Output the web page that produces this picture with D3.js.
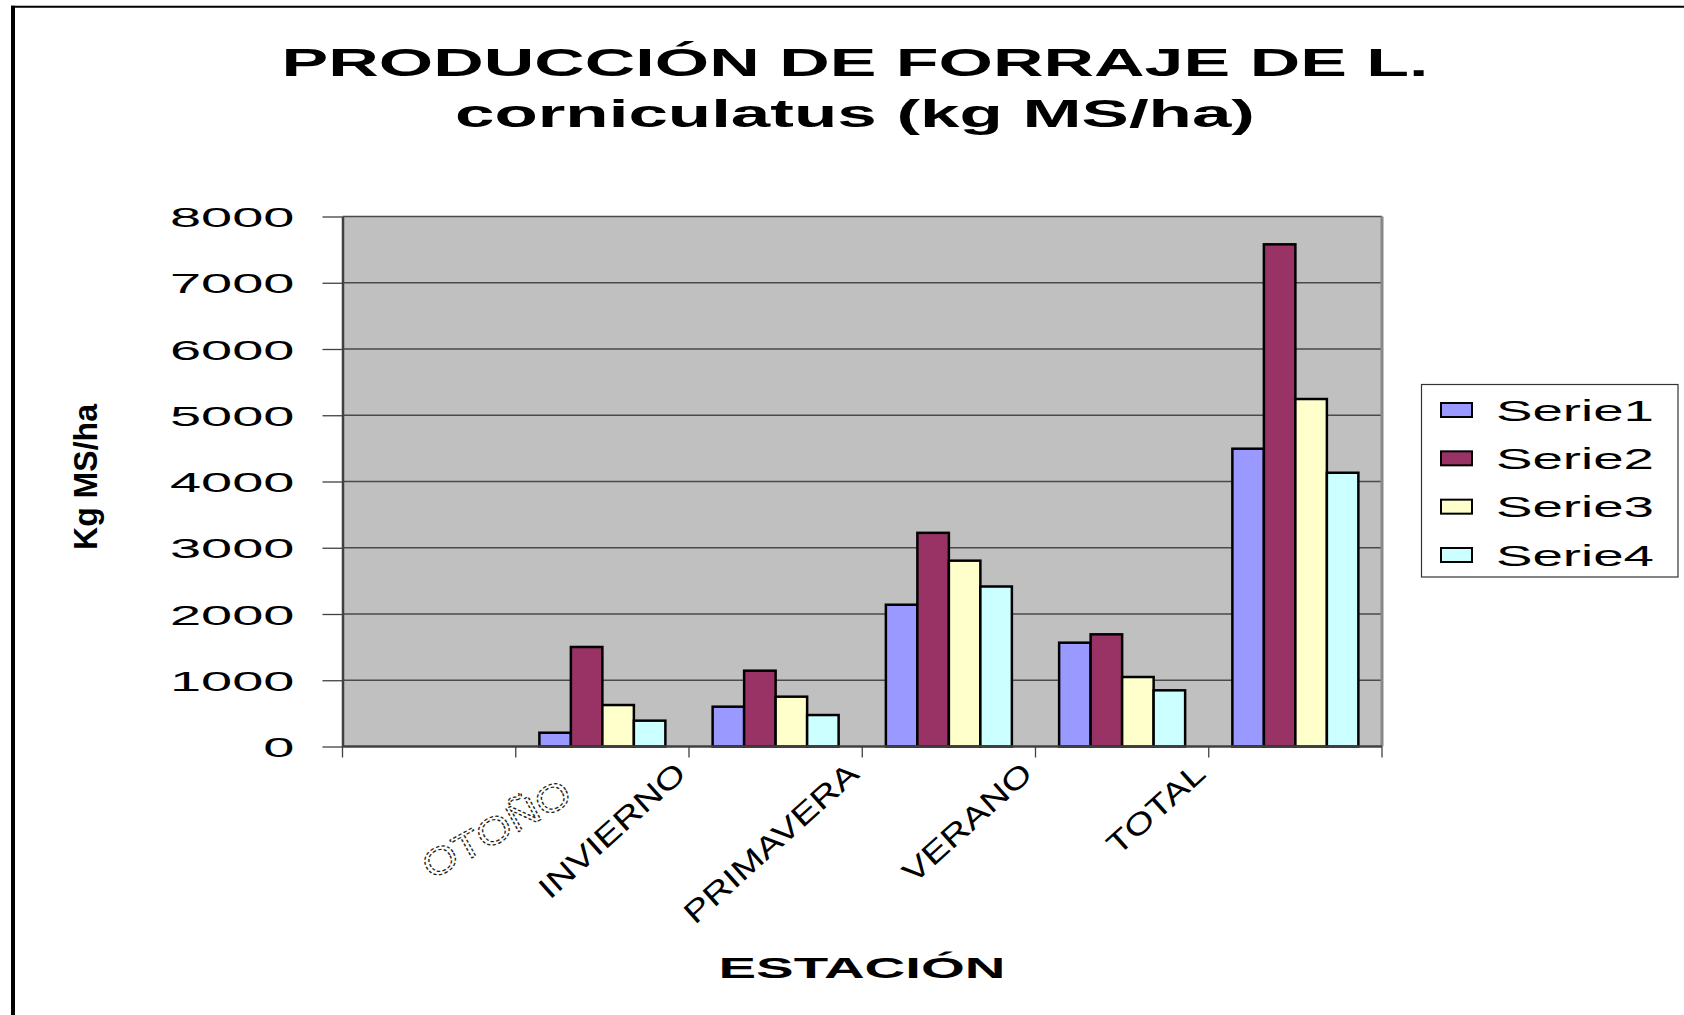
<!DOCTYPE html>
<html>
<head>
<meta charset="utf-8">
<script src="https://cdn.jsdelivr.net/npm/d3@7"></script>
<style>
  body { margin: 0; background: #ffffff; }
  text { font-family: "Liberation Sans", Arial, sans-serif; }
</style>
</head>
<body>
<svg id="chart" width="1684" height="1015"></svg>
<script>
// Forage production of Lotus corniculatus by season (kg DM/ha)
const categories = ["", "OTOÑO", "INVIERNO", "PRIMAVERA", "VERANO", "TOTAL"];
const seriesNames = ["Serie1", "Serie2", "Serie3", "Serie4"];
const serie1 = [null, 208, 601, 2140, 1567, 4495];
const serie2 = [null, 1502, 1144, 3225, 1693, 7580];
const serie3 = [null, 626, 752, 2805, 1049, 5245];
const serie4 = [null, 390, 475, 2415, 848, 4132];
const yTicks = [0, 1000, 2000, 3000, 4000, 5000, 6000, 7000, 8000];
const titleLines = ["PRODUCCIÓN DE FORRAJE DE L.", "corniculatus (kg MS/ha)"];
const xTitle = "ESTACIÓN";
const yTitle = "Kg MS/ha";

const seriesValues = [serie1, serie2, serie3, serie4];
const colors = ["#9999FF", "#993366", "#FFFFCC", "#CCFFFF"];

const svg = d3.select("#chart");

// outer frame (top and left edges)
svg.append("line").attr("x1", 11).attr("x2", 1684).attr("y1", 6.7).attr("y2", 6.7)
  .attr("stroke", "#000").attr("stroke-width", 2);
svg.append("line").attr("x1", 13).attr("x2", 13).attr("y1", 5.7).attr("y2", 1015)
  .attr("stroke", "#000").attr("stroke-width", 4);

const plot = { left: 342.5, right: 1382, top: 216.5, bottom: 746.5 };

const x = d3.scaleBand().domain(categories).range([plot.left, plot.right]);
const inner = d3.scaleBand().domain(seriesNames).range([0, x.bandwidth()])
  .paddingInner(0).paddingOuter(0.75);
const y = d3.scaleLinear().domain([0, 8000]).range([plot.bottom, plot.top]);

// plot background
svg.append("rect")
  .attr("x", plot.left).attr("y", plot.top)
  .attr("width", plot.right - plot.left).attr("height", plot.bottom - plot.top)
  .attr("fill", "#C0C0C0");

// horizontal gridlines
svg.append("g").selectAll("line").data(yTicks.filter(v => v > 0)).join("line")
  .attr("x1", plot.left).attr("x2", plot.right)
  .attr("y1", d => y(d)).attr("y2", d => y(d))
  .attr("stroke", "#4a4a4a").attr("stroke-width", 1.3);

// right edge of plot area
svg.append("line").attr("x1", plot.right).attr("x2", plot.right)
  .attr("y1", plot.top).attr("y2", plot.bottom)
  .attr("stroke", "#888").attr("stroke-width", 3);

// bars
const rows = [];
categories.forEach((c, i) => {
  seriesNames.forEach((s, k) => {
    const v = seriesValues[k][i];
    if (v != null) rows.push({ cat: c, series: s, k, value: v });
  });
});
svg.append("g").selectAll("rect").data(rows).join("rect")
  .attr("x", d => x(d.cat) + inner(d.series))
  .attr("y", d => y(d.value))
  .attr("width", inner.bandwidth())
  .attr("height", d => y(0) - y(d.value))
  .attr("fill", d => colors[d.k])
  .attr("stroke", "#000")
  .attr("stroke-width", 2.5);

// y axis
const yAxis = svg.append("g")
  .attr("transform", `translate(${plot.left},0)`)
  .call(d3.axisLeft(y).tickValues(yTicks).tickFormat(d3.format("d")).tickSize(20).tickSizeOuter(0));
yAxis.select(".domain").attr("stroke", "#404040").attr("stroke-width", 2.5);
yAxis.selectAll(".tick line").attr("stroke", "#404040").attr("stroke-width", 1.3);
yAxis.selectAll(".tick text")
  .attr("x", 0)
  .attr("dy", "0.36em")
  .attr("transform", "translate(-48,0) scale(2,1)")
  .attr("font-size", 28)
  .attr("font-family", "Liberation Sans, Arial, sans-serif")
  .attr("fill", "#000");

// x axis baseline and category boundary ticks
svg.append("line").attr("x1", plot.left).attr("x2", plot.right)
  .attr("y1", y(0)).attr("y2", y(0))
  .attr("stroke", "#404040").attr("stroke-width", 2.5);
const bounds = categories.map(c => x(c)).concat([plot.right]);
svg.append("g").selectAll("line").data(bounds).join("line")
  .attr("x1", d => d).attr("x2", d => d)
  .attr("y1", y(0)).attr("y2", y(0) + 11)
  .attr("stroke", "#404040").attr("stroke-width", 1.3);

// rotated category labels; the first season is drawn as a dashed outline
const labelStyle = {
  solid:    { dx: -88, dy: 776, rot: -42, sx: 1.28, size: 30 },
  outlined: { dx: -28, dy: 801, rot: -29, sx: 1.18, size: 38 }
};
svg.append("g").selectAll("text").data(categories.filter(c => c !== "")).join("text")
  .each(function (d, i) {
    const st = i === 0 ? labelStyle.outlined : labelStyle.solid;
    d3.select(this)
      .attr("font-size", st.size)
      .attr("transform",
        `translate(${x(d) + x.bandwidth() / 2 + st.dx},${st.dy}) rotate(${st.rot}) scale(${st.sx},1)`);
  })
  .attr("text-anchor", "end")
  .attr("fill", (d, i) => i === 0 ? "none" : "#000")
  .attr("stroke", (d, i) => i === 0 ? "#222" : "none")
  .attr("stroke-width", 1.2)
  .attr("stroke-dasharray", (d, i) => i === 0 ? "3,2" : null)
  .text(d => d);

// chart title
const titleBaselines = [76, 127];
const titleWidths = [1147, 800];
svg.append("g").selectAll("text").data(titleLines).join("text")
  .attr("x", 855).attr("y", (d, i) => titleBaselines[i])
  .attr("text-anchor", "middle")
  .attr("font-size", 39).attr("font-weight", "bold")
  .attr("textLength", (d, i) => titleWidths[i])
  .attr("lengthAdjust", "spacingAndGlyphs")
  .text(d => d);

// axis titles
svg.append("text")
  .attr("x", 862).attr("y", 978)
  .attr("text-anchor", "middle")
  .attr("font-size", 30).attr("font-weight", "bold")
  .attr("textLength", 287).attr("lengthAdjust", "spacingAndGlyphs")
  .text(xTitle);

svg.append("text")
  .attr("transform", "translate(97,477) rotate(-90)")
  .attr("text-anchor", "middle")
  .attr("font-size", 34).attr("font-weight", "bold")
  .attr("textLength", 146).attr("lengthAdjust", "spacingAndGlyphs")
  .text(yTitle);

// legend
const legend = svg.append("g");
legend.append("rect")
  .attr("x", 1421.5).attr("y", 384.5).attr("width", 256.5).attr("height", 192.5)
  .attr("fill", "#fff").attr("stroke", "#333").attr("stroke-width", 1.2);
const rowY = d3.scalePoint().domain(seriesNames).range([410, 555]);
const items = legend.selectAll("g.item").data(seriesNames).join("g")
  .attr("class", "item")
  .attr("transform", d => `translate(0,${rowY(d)})`);
items.append("rect")
  .attr("x", 1441).attr("y", -7).attr("width", 31).attr("height", 14)
  .attr("fill", (d, i) => colors[i]).attr("stroke", "#000").attr("stroke-width", 2);
items.append("text")
  .attr("x", 1496).attr("y", 10.5)
  .attr("font-size", 29)
  .attr("textLength", 158).attr("lengthAdjust", "spacingAndGlyphs")
  .text(d => d);
</script>
</body>
</html>
